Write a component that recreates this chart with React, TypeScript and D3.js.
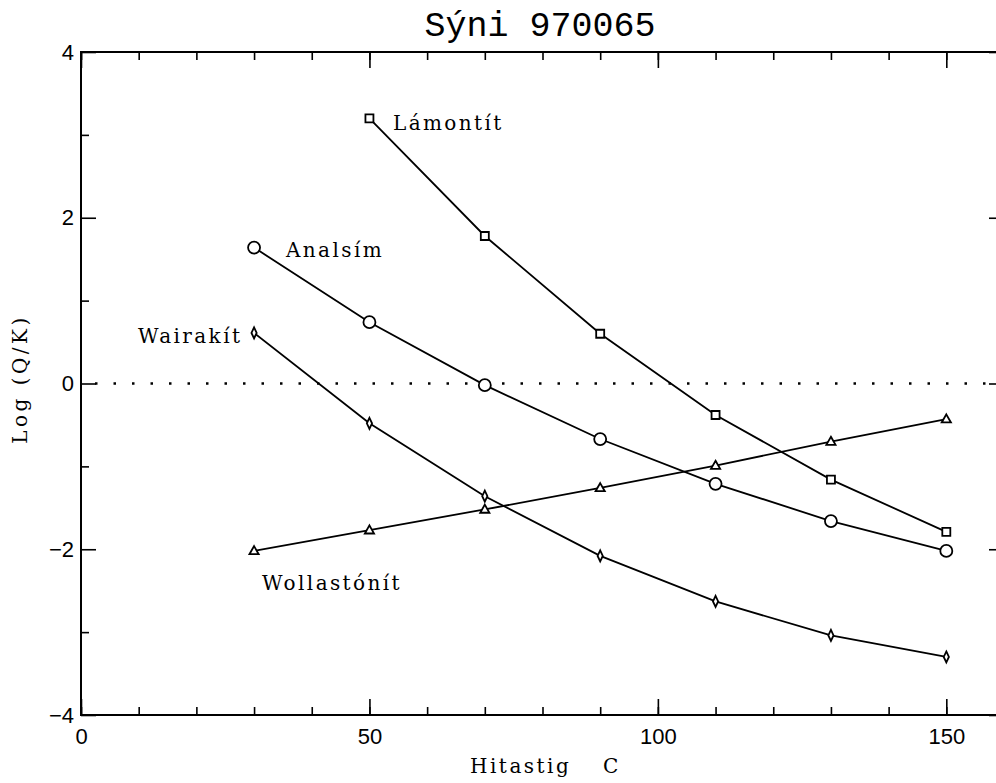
import React, { useEffect, useRef } from 'react';
import * as d3 from 'd3';

// temperatures (C)
const temps = [30, 50, 70, 90, 110, 130, 150];

// log(Q/K) per mineral
const lamontit = [null, 3.2, 1.78, 0.6, -0.38, -1.16, -1.79];
const analsim = [1.64, 0.74, -0.02, -0.67, -1.21, -1.66, -2.02];
const wairakit = [0.61, -0.48, -1.36, -2.08, -2.63, -3.04, -3.3];
const wollastonit = [-2.02, -1.77, -1.52, -1.26, -0.99, -0.7, -0.43];

const xMajor = [0, 50, 100, 150];
const yMajor = [-4, -2, 0, 2, 4];
const yMinor = [-3, -1, 1, 3];

const W = 996;
const H = 783;

type Pt = { t: number; v: number };

const toPts = (vals: (number | null)[]): Pt[] =>
  temps.map((t, i) => ({ t, v: vals[i] as number })).filter((d) => d.v !== null);

const App: React.FC = () => {
  const ref = useRef<SVGSVGElement>(null);

  useEffect(() => {
    const svg = d3.select(ref.current);
    svg.selectAll('*').remove();

    const x = d3.scaleLinear().domain([0, 160]).range([81, 1004]);
    const y = d3.scaleLinear().domain([-4, 4]).range([715, 52]);

    const labelFont = 'Liberation Sans, Arial, sans-serif';
    const serif = 'DejaVu Serif, serif';

    // frame
    svg.append('rect')
      .attr('x', x(0)).attr('y', y(4))
      .attr('width', x(160) - x(0)).attr('height', y(-4) - y(4))
      .attr('fill', 'none').attr('stroke', '#000').attr('stroke-width', 2);

    const styleAxis = (g: any) => {
      g.select('.domain').remove();
      g.selectAll('line').attr('stroke', '#000').attr('stroke-width', 1.6);
      g.selectAll('text').attr('font-family', labelFont).attr('font-size', 22).attr('fill', '#000');
    };

    const xMinor = d3.range(0, 161, 10);

    // bottom
    svg.append('g').attr('transform', `translate(0,${y(-4)})`)
      .call(d3.axisBottom(x).tickValues(xMinor).tickSize(-8).tickFormat(() => ''))
      .call(styleAxis);
    svg.append('g').attr('transform', `translate(0,${y(-4)})`)
      .call(d3.axisBottom(x).tickValues(xMajor).tickSize(-16).tickPadding(13).tickFormat(d3.format('d')))
      .call(styleAxis);
    // top
    svg.append('g').attr('transform', `translate(0,${y(4)})`)
      .call(d3.axisTop(x).tickValues(xMinor).tickSize(-8).tickFormat(() => ''))
      .call(styleAxis);
    svg.append('g').attr('transform', `translate(0,${y(4)})`)
      .call(d3.axisTop(x).tickValues(xMajor).tickSize(-16).tickFormat(() => ''))
      .call(styleAxis);
    // left
    svg.append('g').attr('transform', `translate(${x(0)},0)`)
      .call(d3.axisLeft(y).tickValues(yMinor).tickSize(-8).tickFormat(() => ''))
      .call(styleAxis);
    svg.append('g').attr('transform', `translate(${x(0)},0)`)
      .call(d3.axisLeft(y).tickValues(yMajor).tickSize(-15).tickPadding(7)
        .tickFormat((d: any) => (d < 0 ? '\u2212' + Math.abs(d) : String(d))))
      .call(styleAxis);
    // right
    svg.append('g').attr('transform', `translate(${x(160)},0)`)
      .call(d3.axisRight(y).tickValues(yMinor).tickSize(-8).tickFormat(() => ''))
      .call(styleAxis);
    svg.append('g').attr('transform', `translate(${x(160)},0)`)
      .call(d3.axisRight(y).tickValues(yMajor).tickSize(-15).tickFormat(() => ''))
      .call(styleAxis);

    // dotted zero line
    svg.append('line')
      .attr('x1', x(0) + 14).attr('x2', x(160))
      .attr('y1', y(0)).attr('y2', y(0))
      .attr('stroke', '#000').attr('stroke-width', 2.4)
      .attr('stroke-dasharray', '2.5 16');

    const line = d3.line<Pt>().x((d) => x(d.t)).y((d) => y(d.v));

    const series = [
      { name: 'Lámontít', pts: toPts(lamontit), marker: 'square' },
      { name: 'Analsím', pts: toPts(analsim), marker: 'circle' },
      { name: 'Wairakít', pts: toPts(wairakit), marker: 'diamond' },
      { name: 'Wollastónít', pts: toPts(wollastonit), marker: 'triangle' },
    ];

    const markerPath = (m: string) => {
      if (m === 'square') return 'M-4,-4H4V4H-4Z';
      if (m === 'diamond') return 'M0,-5.5L2.6,0L0,5.5L-2.6,0Z';
      if (m === 'triangle') return 'M0,-4.8L4.6,3.3H-4.6Z';
      return d3.symbol().type(d3.symbolCircle).size(Math.PI * 36)() as string;
    };

    series.forEach((s) => {
      svg.append('path')
        .datum(s.pts)
        .attr('d', line)
        .attr('fill', 'none').attr('stroke', '#000').attr('stroke-width', 1.8);
      svg.append('g').selectAll('path')
        .data(s.pts)
        .enter()
        .append('path')
        .attr('transform', (d) => `translate(${x(d.t)},${y(d.v)})`)
        .attr('d', markerPath(s.marker))
        .attr('fill', '#fff').attr('stroke', '#000').attr('stroke-width', 1.8);
    });

    // annotations
    const notes = [
      { text: 'Lámontít', px: 393, py: 130 },
      { text: 'Analsím', px: 286, py: 257 },
      { text: 'Wairakít', px: 138, py: 343 },
      { text: 'Wollastónít', px: 262, py: 590 },
    ];
    svg.append('g').selectAll('text')
      .data(notes)
      .enter()
      .append('text')
      .attr('x', (d) => d.px).attr('y', (d) => d.py)
      .attr('font-family', serif).attr('font-size', 20).attr('fill', '#000')
      .attr('letter-spacing', 2.4)
      .text((d) => d.text);

    // title
    svg.append('text')
      .attr('x', 540).attr('y', 36).attr('text-anchor', 'middle')
      .attr('font-family', 'Liberation Mono, monospace').attr('font-size', 35)
      .text('Sýni 970065');

    // axis titles
    const xt = svg.append('text')
      .attr('y', 773)
      .attr('font-family', serif).attr('font-size', 20)
      .attr('letter-spacing', 2.5);
    xt.append('tspan').attr('x', 470).text('Hitastig');
    xt.append('tspan').attr('x', 603).text('C');

    svg.append('text')
      .attr('transform', 'translate(27,379) rotate(-90)')
      .attr('text-anchor', 'middle')
      .attr('font-family', serif).attr('font-size', 20)
      .attr('letter-spacing', 3.5)
      .text('Log (Q/K)');
  }, []);

  return (
    <svg ref={ref} width={W} height={H}
      style={{ position: 'absolute', left: 0, top: 0, background: '#fff' }} />
  );
};

export default App;
